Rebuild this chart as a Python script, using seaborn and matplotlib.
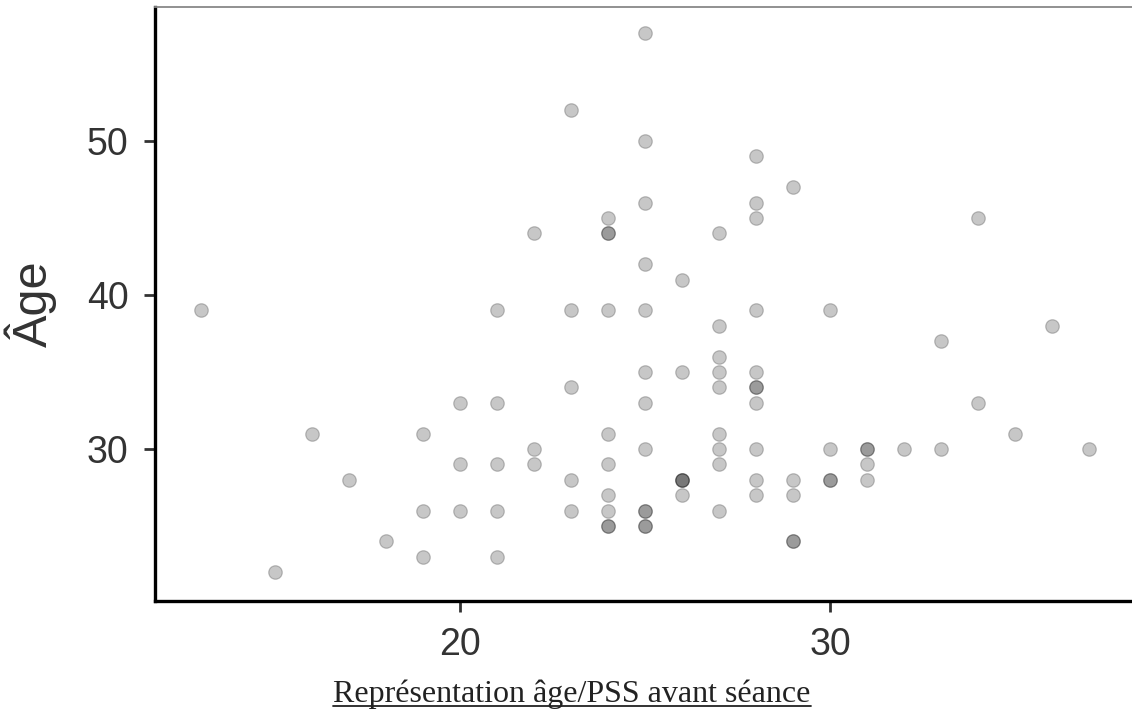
import matplotlib
matplotlib.use("Agg")
import matplotlib.pyplot as plt
from matplotlib.lines import Line2D
import seaborn as sns
import pandas as pd

# PSS score before session (x) and age (y)
pss = [13, 15, 16, 17, 18,
       19, 19, 19,
       20, 20, 20,
       21, 21, 21, 21, 21,
       22, 22, 22,
       23, 23, 23, 23, 23,
       24, 24, 24, 24, 24, 24, 24, 24, 24, 24,
       25, 25, 25, 25, 25, 25, 25, 25, 25, 25, 25, 25,
       26, 26, 26, 26, 26, 26,
       27, 27, 27, 27, 27, 27, 27, 27, 27,
       28, 28, 28, 28, 28, 28, 28, 28, 28, 28, 28,
       29, 29, 29, 29, 29,
       30, 30, 30, 30,
       31, 31, 31, 31,
       32, 33, 33, 34, 34, 35, 36, 37]
age = [39, 22, 31, 28, 24,
       31, 26, 23,
       33, 29, 26,
       39, 33, 29, 26, 23,
       44, 30, 29,
       52, 39, 34, 28, 26,
       45, 44, 44, 39, 31, 29, 27, 26, 25, 25,
       57, 50, 46, 42, 39, 35, 33, 30, 26, 26, 25, 25,
       41, 35, 28, 28, 28, 27,
       44, 38, 36, 35, 34, 31, 30, 29, 26,
       49, 46, 45, 39, 35, 34, 34, 33, 30, 28, 27,
       47, 28, 27, 24, 24,
       39, 30, 28, 28,
       30, 30, 29, 28,
       30, 37, 30, 45, 33, 31, 38, 30]

x_ticks = [20, 30]
y_ticks = [30, 40, 50]
y_label = "Âge"
caption = "Représentation âge/PSS avant séance"

df = pd.DataFrame({"pss": pss, "age": age})

sns.set_theme(style="white")
plt.rcParams["font.family"] = ["Liberation Sans", "DejaVu Sans"]

fig = plt.figure(figsize=(11.32, 7.15), dpi=100)
ax = fig.add_axes([155 / 1132, (715 - 601) / 715, 1 - 155 / 1132, (601 - 7) / 715])

sns.scatterplot(data=df, x="pss", y="age", ax=ax, color="black", alpha=0.22,
                s=95, edgecolor="black", linewidth=0.9, legend=False)

ax.set_xlim(11.76, 38.16)
ax.set_ylim(20.13, 58.7)
ax.set_xticks(x_ticks)
ax.set_yticks(y_ticks)
ax.set_xlabel("")
ax.set_ylabel(y_label, fontsize=35, color="#333333")
ax.yaxis.set_label_coords(-0.1, 0.5)

ax.tick_params(axis="both", which="both", direction="out", length=8, width=2,
               color="#333333", labelsize=27, labelcolor="#333333", pad=11,
               left=True, bottom=True)

for side in ["left", "bottom"]:
    ax.spines[side].set_color("black")
    ax.spines[side].set_linewidth(2.4)
ax.spines["top"].set_color("#888888")
ax.spines["top"].set_linewidth(1.3)
ax.spines["right"].set_visible(False)

t = fig.text(572 / 1132, (715 - 702) / 715, caption, ha="center", va="baseline",
             fontsize=23, family=["Liberation Serif", "DejaVu Serif"], color="#222222")
fig.canvas.draw()
bb = t.get_window_extent(fig.canvas.get_renderer())
W, H = fig.bbox.width, fig.bbox.height
uy = (715 - 706) / 715
fig.add_artist(Line2D([bb.x0 / W, bb.x1 / W], [uy, uy], transform=fig.transFigure,
                      color="#222222", linewidth=1.3))

fig.savefig("out.png", dpi=100)
